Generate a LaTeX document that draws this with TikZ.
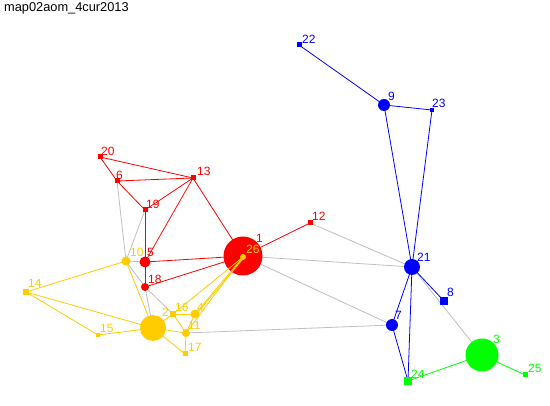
\documentclass[tikz,border=0pt]{standalone}
\usepackage{fontspec}
\setmainfont{Liberation Sans}
\definecolor{cred}{RGB}{255,0,0}
\definecolor{cyel}{RGB}{255,204,0}
\definecolor{cblu}{RGB}{0,0,255}
\definecolor{cgrn}{RGB}{0,255,0}
\definecolor{cgry}{RGB}{192,192,192}
\begin{document}
\begin{tikzpicture}[x=1pt,y=-1pt,
  sq/.style={rectangle,inner sep=0pt,minimum size=#1},
  dot/.style={circle,inner sep=0pt,minimum size=#1},
  lab/.style={anchor=base west,inner sep=0pt,font=\fontsize{12}{13}\selectfont},
  e/.style={line width=0.8pt}]
\useasboundingbox (0,0) rectangle (550,406);
\fill[white] (0,0) rectangle (550,406);
\node[anchor=base west,inner sep=0pt,font=\fontsize{12.8}{14}\selectfont] (title) at (4,12) {map02aom\_4cur2013};
% node coordinates
\coordinate (p22) at (299,45);
\coordinate (p9) at (384,105);
\coordinate (p23) at (432,110);
\coordinate (p21) at (412,267);
\coordinate (p8) at (444,301);
\coordinate (p7) at (392,325);
\coordinate (p24) at (408,381);
\coordinate (p3) at (482,355);
\coordinate (p25) at (525,375);
\coordinate (p12) at (310,223);
\coordinate (p1) at (243,256);
\coordinate (p26) at (243,257);
\coordinate (p13) at (193,178);
\coordinate (p20) at (100,157);
\coordinate (p6) at (117,181);
\coordinate (p19) at (145,210);
\coordinate (p5) at (145,262);
\coordinate (p10) at (126,261);
\coordinate (p18) at (145,287);
\coordinate (p14) at (26,292);
\coordinate (p15) at (98,335);
\coordinate (p2) at (153,328);
\coordinate (p16) at (173,314);
\coordinate (p4) at (195,314);
\coordinate (p11) at (186,333);
\coordinate (p17) at (185,354);
% gray edges
\begin{scope}[cgry,e]
\draw (p21) -- (p1);
\draw (p21) -- (p12);
\draw (p7) -- (p1);
\draw (p7) -- (p11);
\draw (p21) -- (p3);
\draw (p6) -- (p10);
\draw (p19) -- (p10);
\draw (p10) -- (p5);
\draw (p10) -- (p18);
\draw (p18) -- (p16);
\draw (p18) -- (p2);
\end{scope}
% red edges
\begin{scope}[cred,e]
\draw (p20) -- (p13);
\draw (p20) -- (p6);
\draw (p6) -- (p13);
\draw (p6) -- (p19);
\draw (p19) -- (p13);
\draw (p13) -- (p5);
\draw (p13) -- (p1);
\draw (p19) -- (p5);
\draw (p5) -- (p1);
\draw (p5) -- (p18);
\draw (p18) -- (p1);
\draw (p1) -- (p12);
\end{scope}
% blue edges
\begin{scope}[cblu,e]
\draw (p22) -- (p9);
\draw (p9) -- (p23);
\draw (p9) -- (p21);
\draw (p23) -- (p21);
\draw (p21) -- (p8);
\draw (p21) -- (p7);
\draw (p21) -- (p24);
\draw (p7) -- (p24);
\end{scope}
% green edges
\begin{scope}[cgrn,e]
\draw (p24) -- (p3);
\draw (p3) -- (p25);
\end{scope}
% nodes
\node[sq=5pt,fill=cblu] (n22) at (p22) {};
\node[dot=12pt,fill=cblu] (n9) at (p9) {};
\node[sq=4pt,fill=cblu] (n23) at (p23) {};
\node[dot=16pt,fill=cblu] (n21) at (p21) {};
\node[sq=8pt,fill=cblu] (n8) at (p8) {};
\node[dot=12pt,fill=cblu] (n7) at (p7) {};
\node[sq=8pt,fill=cgrn] (n24) at (p24) {};
\node[dot=33pt,fill=cgrn] (n3) at (p3) {};
\node[sq=5pt,fill=cgrn] (n25) at (p25) {};
\node[sq=5pt,fill=cred] (n12) at (p12) {};
\node[dot=39pt,fill=cred] (n1) at (p1) {};
\node[sq=5pt,fill=cred] (n13) at (p13) {};
\node[sq=5pt,fill=cred] (n20) at (p20) {};
\node[sq=5pt,fill=cred] (n6) at (p6) {};
\node[sq=5pt,fill=cred] (n19) at (p19) {};
\node[dot=11pt,fill=cred] (n5) at (p5) {};
\node[dot=9pt,fill=cyel] (n10) at (p10) {};
\node[dot=8pt,fill=cred] (n18) at (p18) {};
% yellow edges (drawn over big red node)
\begin{scope}[cyel,e]
\draw (p10) -- (p14);
\draw (p14) -- (p2);
\draw (p14) -- (p15);
\draw (p15) -- (p2);
\draw (p10) -- (p2);
\draw (p2) -- (p16);
\draw (p2) -- (p11);
\draw (p2) -- (p17);
\draw (p16) -- (p4);
\draw (p16) -- (p11);
\draw (p4) -- (p11);
\draw (p11) -- (p17);
\draw (p26) -- (p16);
\draw (p26) -- (p4);
\draw ([xshift=1.5pt]p26) -- ([xshift=1.5pt]p4);
\draw (p26) -- (p11);
\end{scope}
\node[sq=6pt,fill=cyel] (n14) at (p14) {};
\node[sq=4pt,fill=cyel] (n15) at (p15) {};
\node[dot=26pt,fill=cyel] (n2) at (p2) {};
\node[sq=6pt,fill=cyel] (n16) at (p16) {};
\node[dot=9pt,fill=cyel] (n4) at (p4) {};
\node[dot=8pt,fill=cyel] (n11) at (p11) {};
\node[sq=5pt,fill=cyel] (n17) at (p17) {};
\node[dot=6pt,fill=cyel] (n26) at (p26) {};
% labels
\node[lab,cblu] (l22) at (302,44) {22};
\node[lab,cblu] (l9) at (388,101) {9};
\node[lab,cblu] (l23) at (432,108) {23};
\node[lab,cblu] (l21) at (417,262) {21};
\node[lab,cblu] (l8) at (447,297) {8};
\node[lab,cblu] (l7) at (395,320) {7};
\node[lab,cgrn] (l24) at (411,379) {24};
\node[lab,cgrn] (l3) at (493,344) {3};
\node[lab,cgrn] (l25) at (528,373) {25};
\node[lab,cred] (l12) at (312,221) {12};
\node[lab,cred] (l1) at (256,243) {1};
\node[lab,cyel] (l26) at (246,254) {26};
\node[lab,cred] (l13) at (197,176) {13};
\node[lab,cred] (l20) at (101,156) {20};
\node[lab,cred] (l6) at (116,180) {6};
\node[lab,cred] (l19) at (146,209) {19};
\node[lab,cyel] (l10) at (130,257) {10};
\node[lab,cred] (l5) at (147,257) {5};
\node[lab,cred] (l18) at (148,284) {18};
\node[lab,cyel] (l14) at (28,288) {14};
\node[lab,cyel] (l15) at (100,333) {15};
\node[lab,cyel] (l2) at (162,317) {2};
\node[lab,cyel] (l16) at (175,312) {16};
\node[lab,cyel] (l4) at (197,312) {4};
\node[lab,cyel] (l11) at (188,330) {11};
\node[lab,cyel] (l17) at (188,352) {17};
\end{tikzpicture}
\end{document}
